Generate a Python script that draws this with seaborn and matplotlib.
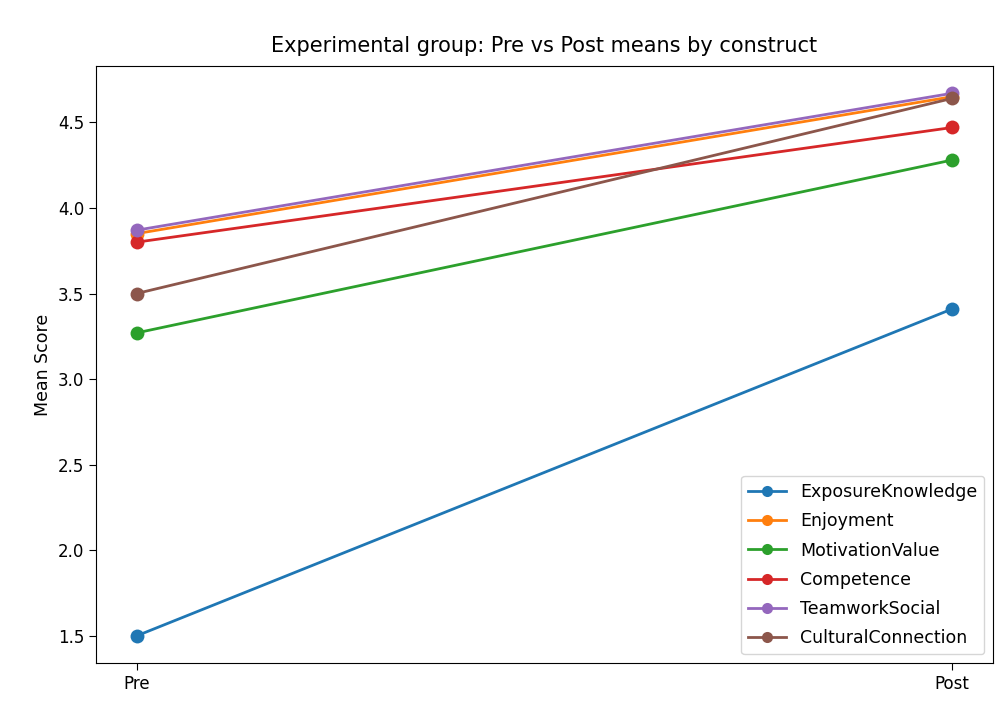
import matplotlib

matplotlib.use("Agg")
import matplotlib.pyplot as plt
import pandas as pd
import seaborn as sns

# --- Data --------------------------------------------------------------------
TIMES = ["Pre", "Post"]
CONSTRUCTS = [
    "ExposureKnowledge",
    "Enjoyment",
    "MotivationValue",
    "Competence",
    "TeamworkSocial",
    "CulturalConnection",
]
PRE_MEANS = [1.50, 3.85, 3.27, 3.80, 3.87, 3.50]
POST_MEANS = [3.41, 4.65, 4.28, 4.47, 4.67, 4.64]

rows = []
for name, pre, post in zip(CONSTRUCTS, PRE_MEANS, POST_MEANS):
    rows.append({"Time": TIMES[0], "Construct": name, "Mean": pre})
    rows.append({"Time": TIMES[1], "Construct": name, "Mean": post})
df = pd.DataFrame(rows)

fig = plt.figure(figsize=(9.98, 7.11), dpi=100)
ax = fig.add_axes([0.096, 0.0675, 0.899, 0.8395])

sns.lineplot(
    data=df,
    x="Time",
    y="Mean",
    hue="Construct",
    hue_order=CONSTRUCTS,
    palette="tab10",
    marker="o",
    markersize=10,
    markeredgewidth=0,
    linewidth=2,
    ax=ax,
)

ax.set_title("Experimental group: Pre vs Post means by construct", fontsize=15, pad=10)
ax.set_xlabel("")
ax.set_ylabel("Mean Score", fontsize=12.5)
ax.tick_params(labelsize=12, length=5)
ax.legend(
    loc="lower right",
    fontsize=12.5,
    title=None,
    markerscale=0.8,
    labelspacing=0.65,
    handlelength=2.2,
)

fig.savefig("out.png", dpi=100)
